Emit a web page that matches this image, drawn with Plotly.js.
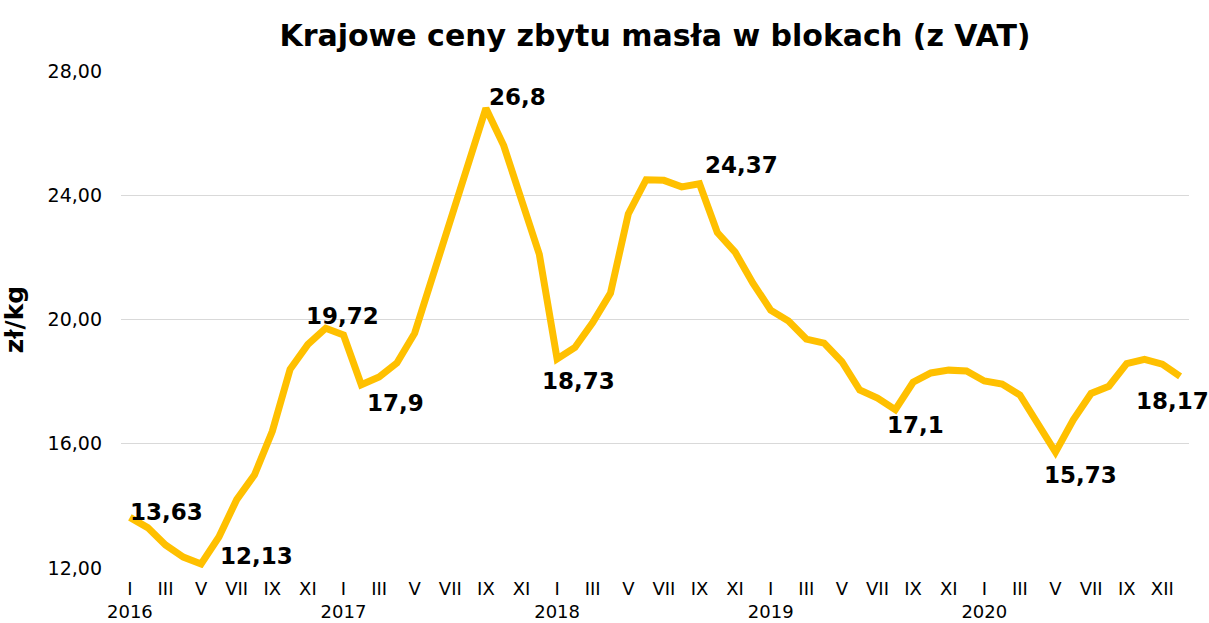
<!DOCTYPE html>
<html>
<head>
<meta charset="utf-8">
<script src="https://cdn.plot.ly/plotly-3.0.1.min.js"></script>
<style>html,body{margin:0;padding:0;background:#fff;}#chart{width:1209px;height:623px;}</style>
</head>
<body>
<div id="chart"></div>
<script>
// ---- data ----
const months = ["I","II","III","IV","V","VI","VII","VIII","IX","X","XI","XII"];
const years = [2016, 2017, 2018, 2019, 2020];
const prices = [
  13.63, 13.30, 12.74, 12.35, 12.13, 13.00, 14.20, 15.00, 16.40, 18.40, 19.20, 19.72,
  19.50, 17.90, 18.15, 18.60, 19.56, 21.37, 23.20, 25.00, 26.80, 25.60, 23.85, 22.10,
  18.73, 19.10, 19.90, 20.85, 23.40, 24.50, 24.48, 24.27, 24.37, 22.80, 22.17, 21.17,
  20.30, 19.95, 19.37, 19.24, 18.64, 17.73, 17.47, 17.10, 17.98, 18.28, 18.37, 18.34,
  18.02, 17.92, 17.57, 16.60, 15.73, 16.77, 17.62, 17.85, 18.58, 18.72, 18.56, 18.17
];
// indices of points carrying a value label
const labelIdx = [0, 4, 11, 13, 20, 24, 32, 43, 52, 59];
// tick labels shown every second month (last one reads XII in the original)
const tickIdx = [0,2,4,6,8,10,12,14,16,18,20,22,24,26,28,30,32,34,36,38,40,42,44,46,48,50,52,54,56,58];
const tickNames = ["I","III","V","VII","IX","XI","I","III","V","VII","IX","XI","I","III","V","VII","IX","XI","I","III","V","VII","IX","XI","I","III","V","VII","IX","XII"];

const titleText = "Krajowe ceny zbytu masła w blokach (z VAT)";
const yTitle = "zł/kg";

// ---- build ----
const FONT = "DejaVu Sans, Verdana, sans-serif";
const x = prices.map((_, i) => i);
const tickText = tickIdx.map((idx, k) => {
  const yr = (idx % 12 === 0) ? "<br>" + years[Math.floor(idx / 12)] : "";
  return tickNames[k] + yr;
});

const fmt = v => String(Math.round(v * 100) / 100).replace(".", ",");

// label placement (style), keyed by position in labelIdx
const place = [
  {xa:"left",   xs:-2, ys:5},
  {xa:"left",   xs:17, ys:8},
  {xa:"center", xs:17, ys:12},
  {xa:"left",   xs:4,  ys:-18},
  {xa:"left",   xs:1,  ys:11},
  {xa:"center", xs:21, ys:-22},
  {xa:"left",   xs:3,  ys:19},
  {xa:"center", xs:20, ys:-15},
  {xa:"center", xs:25, ys:-23},
  {xa:"center", xs:-8, ys:-25}
];

const annotations = labelIdx.map((idx, k) => ({
  x: idx, y: prices[idx], xref: "x", yref: "y",
  text: "<b>" + fmt(prices[idx]) + "</b>", showarrow: false,
  xanchor: place[k].xa, yanchor: "middle",
  xshift: place[k].xs, yshift: place[k].ys,
  font: {family: FONT, size: 23, color: "#000"}
}));

const trace = {
  x: x, y: prices, type: "scatter", mode: "lines",
  line: {color: "#FFC000", width: 7},
  hoverinfo: "skip"
};

const layout = {
  width: 1209, height: 623,
  margin: {l: 121, r: 20, t: 71, b: 55},
  paper_bgcolor: "#fff", plot_bgcolor: "#fff",
  separators: ", ",
  showlegend: false,
  font: {family: FONT, color: "#000"},
  title: {
    text: "<b>" + titleText + "</b>",
    x: 0.5, xref: "paper", xanchor: "center",
    y: 1 - 35 / 623, yref: "container", yanchor: "middle",
    font: {size: 30, color: "#000", family: FONT}
  },
  xaxis: {
    range: [-0.5, prices.length - 0.5],
    tickmode: "array", tickvals: tickIdx, ticktext: tickText,
    showgrid: false, zeroline: false, showline: false,
    ticks: "", tickfont: {size: 18, color: "#000"},
    ticklabelstandoff: 8, tickangle: 0
  },
  yaxis: {
    range: [12, 28], dtick: 4, tick0: 12,
    tickformat: ".2f",
    showgrid: true, gridcolor: "#d9d9d9", gridwidth: 1,
    zeroline: false, showline: false, ticks: "",
    tickfont: {size: 19, color: "#000"},
    ticklabelstandoff: 18,
    title: {text: "<b>" + yTitle + "</b>", font: {size: 25, color: "#000"}, standoff: 16}
  },
  annotations: annotations
};

Plotly.newPlot("chart", [trace], layout, {displayModeBar: false, staticPlot: true});
</script>
</body>
</html>
